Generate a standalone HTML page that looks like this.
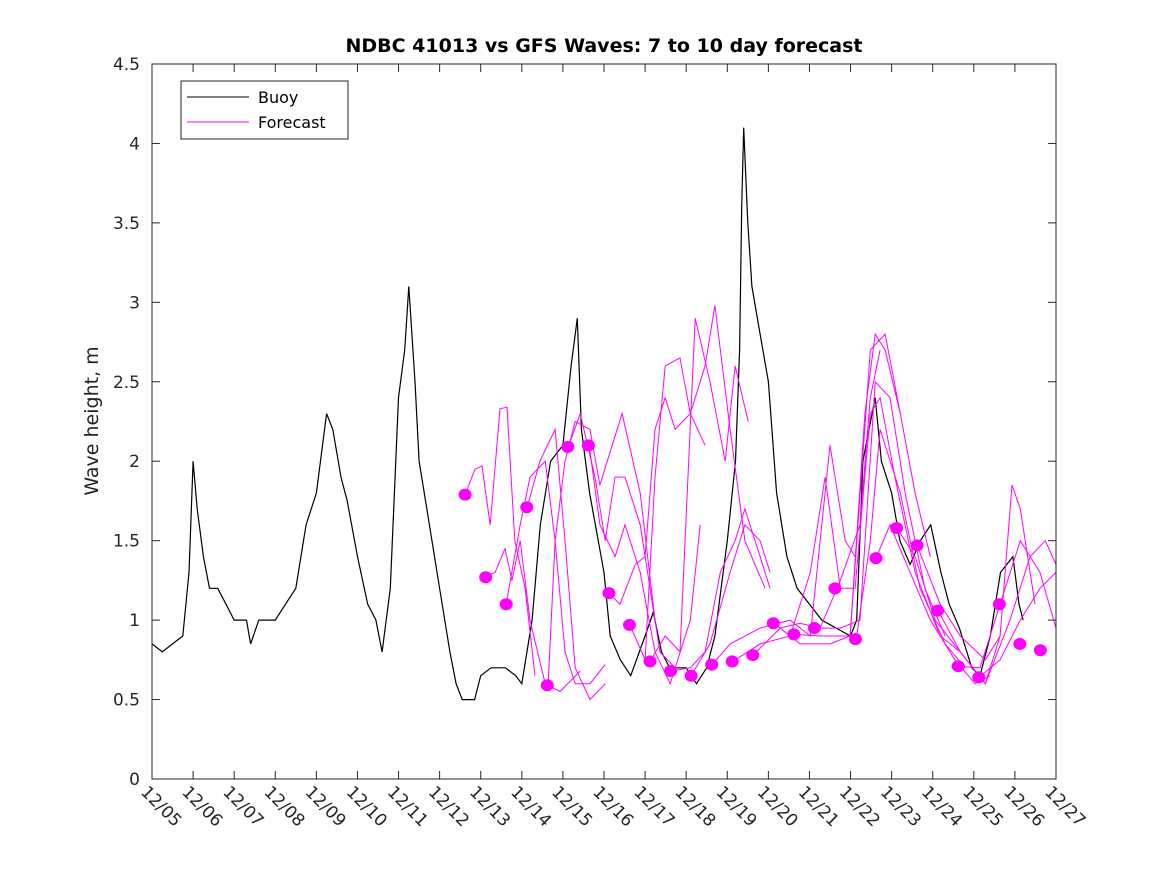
<!DOCTYPE html>
<html><head><meta charset="utf-8">
<style>
html,body{margin:0;padding:0;background:#fff;}
svg{display:block;font-family:"DejaVu Sans","Liberation Sans",sans-serif;}
</style></head>
<body>
<svg id="chart" width="1167" height="875" viewBox="0 0 1167 875">
<rect x="0" y="0" width="1167" height="875" fill="#fff"/>
<text x="604" y="52" text-anchor="middle" font-size="19" font-weight="bold" fill="#000">NDBC 41013 vs GFS Waves: 7 to 10 day forecast</text>
<text transform="translate(98,421) rotate(-90)" text-anchor="middle" font-size="19" fill="#222">Wave height, m</text>
<g id="grid"></g>
<g id="series"></g>
<rect x="152" y="64" width="904" height="715" fill="none" stroke="#262626" stroke-width="1"/>
<g>
<rect x="181" y="81" width="167" height="58" fill="#fff" stroke="#262626" stroke-width="1"/>
<line x1="187" y1="97" x2="249" y2="97" stroke="#000" stroke-width="1"/>
<text x="258" y="103" font-size="16" fill="#000">Buoy</text>
<line x1="187" y1="122" x2="249" y2="122" stroke="#ff00ff" stroke-width="1"/>
<text x="258" y="128" font-size="16" fill="#000">Forecast</text>
</g>
</svg>
<script>
// Data (time in days since 12/05 00:00, wave height in m)
const xTickLabels = ["12/05","12/06","12/07","12/08","12/09","12/10","12/11","12/12","12/13","12/14","12/15","12/16","12/17","12/18","12/19","12/20","12/21","12/22","12/23","12/24","12/25","12/26","12/27"];
const yTickValues = [0,0.5,1,1.5,2,2.5,3,3.5,4,4.5];
const yTickLabels = ["0","0.5","1","1.5","2","2.5","3","3.5","4","4.5"];
const buoyTimes = [0,0.25,0.5,0.75,0.9,1.0,1.1,1.25,1.4,1.6,1.8,2.0,2.3,2.4,2.6,2.9,3.0,3.25,3.5,3.75,4.0,4.15,4.25,4.4,4.6,4.75,5.0,5.25,5.45,5.6,5.8,6.0,6.15,6.25,6.4,6.5,6.75,7.0,7.25,7.4,7.55,7.85,8.0,8.25,8.6,8.85,9.0,9.25,9.45,9.7,10.0,10.2,10.35,10.45,10.65,11.0,11.15,11.4,11.65,12.0,12.2,12.4,12.6,13.0,13.25,13.5,13.7,14.0,14.2,14.3,14.35,14.4,14.5,14.6,14.8,15.0,15.2,15.45,15.7,16.0,16.3,16.65,17.0,17.15,17.3,17.45,17.6,17.75,18.0,18.2,18.45,18.7,18.95,19.2,19.4,19.65,19.95,20.15,20.4,20.65,20.95,21.1,21.2];
const buoyValues = [0.85,0.8,0.85,0.9,1.3,2.0,1.7,1.4,1.2,1.2,1.1,1.0,1.0,0.85,1.0,1.0,1.0,1.1,1.2,1.6,1.8,2.1,2.3,2.2,1.9,1.75,1.4,1.1,1.0,0.8,1.2,2.4,2.7,3.1,2.5,2.0,1.6,1.2,0.8,0.6,0.5,0.5,0.65,0.7,0.7,0.65,0.6,1.0,1.6,2.0,2.1,2.6,2.9,2.2,1.8,1.3,0.9,0.75,0.65,0.9,1.05,0.8,0.7,0.7,0.6,0.7,0.9,1.5,2.0,2.7,3.6,4.1,3.5,3.1,2.8,2.5,1.8,1.4,1.2,1.1,1.0,0.95,0.9,1.0,2.0,2.2,2.4,2.0,1.8,1.5,1.35,1.5,1.6,1.3,1.1,0.95,0.7,0.65,0.9,1.3,1.4,1.1,1.0];
const forecastStartDay = 7.62;
const forecastStepDays = 0.5;
const forecastDotValues = [1.79,1.27,1.10,1.71,0.59,2.09,2.10,1.17,0.97,0.74,0.68,0.65,0.72,0.74,0.78,0.98,0.91,0.95,1.20,0.88,1.39,1.58,1.47,1.06,0.71,0.64,1.10,0.85,0.81];
const fcTimes = [
[7.62,7.86,8.03,8.23,8.47,8.64,8.83,9.08,9.32],
[8.10,8.35,8.59,8.76,8.96,9.20,9.57,9.93,10.42],
[8.62,8.96,9.20,9.57,9.81,10.05,10.30,10.66,11.03],
[9.13,9.44,9.81,10.05,10.30,10.66,11.03],
[9.64,9.81,10.05,10.30,10.66,10.90,11.20,11.44,11.88,12.24],
[10.13,10.42,10.78,11.03,11.27,11.51,11.88,12.36,12.73],
[10.64,10.90,11.27,11.51,11.88,12.24,12.61,13.10,13.34],
[11.12,11.39,11.76,12.00,12.24,12.49,12.73,13.10,13.46],
[11.63,12.00,12.24,12.49,12.85,13.10,13.46,13.70,14.07,14.43,14.92],
[12.12,12.49,12.85,13.22,13.58,13.95,14.19,14.51],
[12.63,13.10,13.46,13.83,14.19,14.43,14.80,15.04],
[13.12,13.58,14.07,14.43,14.80,15.04],
[13.63,14.07,14.80,15.53,16.02,16.50,16.87,17.11],
[14.14,14.80,15.53,16.02,16.38,16.75],
[14.63,15.29,15.77,16.26,16.75,17.23,17.48,17.72],
[15.14,15.77,16.50,16.99,17.35,17.60,17.84,18.21],
[15.63,16.26,16.99,17.48,17.84,18.21,18.57,18.94],
[16.14,16.75,17.23,17.60,17.96,18.33,18.81,19.30],
[16.62,17.11,17.48,17.72,18.08,18.57,19.18,19.67],
[17.14,17.48,17.72,18.21,18.69,19.30,19.79],
[17.62,17.96,18.45,18.94,19.54,20.03,20.40],
[18.13,18.57,19.06,19.67,20.28,20.64],
[18.62,19.18,19.67,20.28,20.64,20.93,21.13,21.49],
[19.13,19.67,20.28,20.88,21.37,21.74,22.0],
[19.62,20.15,20.64,21.13,21.61,22.0],
[20.13,20.64,21.13,21.61,22.0]
];
const fcValues = [
[1.79,1.95,1.97,1.6,2.33,2.34,1.5,1.2,0.65],
[1.27,1.3,1.45,1.25,1.5,1.0,0.6,0.55,0.68],
[1.10,1.6,1.9,2.0,1.5,0.8,0.6,0.6,0.72],
[1.71,2.0,2.2,1.5,0.7,0.5,0.6],
[0.59,1.5,2.0,2.25,2.2,1.85,2.1,2.3,1.8,1.0],
[2.09,2.3,1.9,1.5,1.9,1.9,1.6,0.8,0.7],
[2.10,1.6,1.4,1.6,1.3,0.8,0.6,1.0,1.6],
[1.17,1.1,1.35,1.4,2.2,2.4,2.2,2.3,2.1],
[0.97,0.75,1.9,2.6,2.65,2.3,2.6,2.98,2.2,1.5,1.2],
[0.74,0.9,0.8,2.9,2.5,2.0,2.6,2.25],
[0.68,0.7,0.8,1.3,1.5,1.7,1.4,1.2],
[0.65,0.85,1.3,1.6,1.5,1.3],
[0.72,0.85,0.95,1.0,0.9,2.1,1.5,1.4],
[0.74,0.85,0.9,1.3,1.9,1.2],
[0.78,0.95,0.98,0.95,1.25,1.6,2.4,2.7],
[0.98,0.85,0.85,0.9,2.3,2.8,2.7,2.3],
[0.91,0.9,0.9,2.7,2.8,2.3,1.8,1.4],
[0.95,0.95,1.0,2.5,2.4,1.8,1.2,0.9],
[1.20,1.2,2.3,2.4,1.9,1.3,0.9,0.8],
[0.88,1.5,2.2,1.8,1.2,0.85,0.7],
[1.39,1.6,1.3,1.0,0.75,0.6,0.65],
[1.58,1.4,1.0,0.8,0.6,0.9],
[1.47,1.1,0.9,0.75,0.9,1.85,1.7,1.1],
[1.06,0.8,0.6,1.0,1.4,1.5,1.35],
[0.71,0.7,1.1,1.5,1.3,0.95],
[0.64,0.75,1.0,1.2,1.3]
];

const NS = "http://www.w3.org/2000/svg";
const X0 = 152, X1 = 1056, Y0 = 779, Y1 = 64;
const xMax = 22, yMax = 4.5;
function xScale(d){ return X0 + d/xMax*(X1-X0); }
function yScale(v){ return Y0 - v/yMax*(Y0-Y1); }
function mk(tag, attrs, parent){
  const e = document.createElementNS(NS, tag);
  for (const k in attrs) e.setAttribute(k, attrs[k]);
  parent.appendChild(e);
  return e;
}
const grid = document.getElementById("grid");
const series = document.getElementById("series");

yTickValues.forEach((v,i)=>{
  const y = yScale(v);
  const t = mk("line",{x1:X0,y1:y,x2:X0+8,y2:y,stroke:"#262626"},grid);
  
  
  const t2 = mk("line",{x1:X1,y1:y,x2:X1-8,y2:y,stroke:"#262626"},grid);
  
  
  const lb = mk("text",{x:X0-12,y:y+6,"text-anchor":"end","font-size":"17",fill:"#262626"},grid);
  lb.textContent = yTickLabels[i];
  
  
});
xTickLabels.forEach((s,i)=>{
  const x = xScale(i);
  const t = mk("line",{x1:x,y1:Y0,x2:x,y2:Y0-8,stroke:"#262626"},grid);
  
  
  const t2 = mk("line",{x1:x,y1:Y1,x2:x,y2:Y1+8,stroke:"#262626"},grid);
  
  
  const lb = mk("text",{transform:"translate("+(x-12)+","+(Y0+14)+") rotate(45)","font-size":"17",fill:"#262626"},grid);
  lb.textContent = s;
  
  
});
const bp = buoyTimes.map((d,i)=>xScale(d).toFixed(1)+","+yScale(buoyValues[i]).toFixed(1)).join(" ");
const buoy = mk("polyline",{points:bp,fill:"none",stroke:"#000","stroke-width":"1.2"},series);


fcTimes.forEach((ts,j)=>{
  const p = ts.map((d,i)=>xScale(d).toFixed(1)+","+yScale(fcValues[j][i]).toFixed(1)).join(" ");
  const l = mk("polyline",{points:p,fill:"none",stroke:"#ff00ff","stroke-width":"1"},series);
  
  
});
forecastDotValues.forEach((v,k)=>{
  const d = forecastStartDay + k*forecastStepDays;
  const c = mk("ellipse",{cx:xScale(d),cy:yScale(v),rx:6.5,ry:6,fill:"#ff00ff"},series);
  
  
});
</script>
</body></html>
